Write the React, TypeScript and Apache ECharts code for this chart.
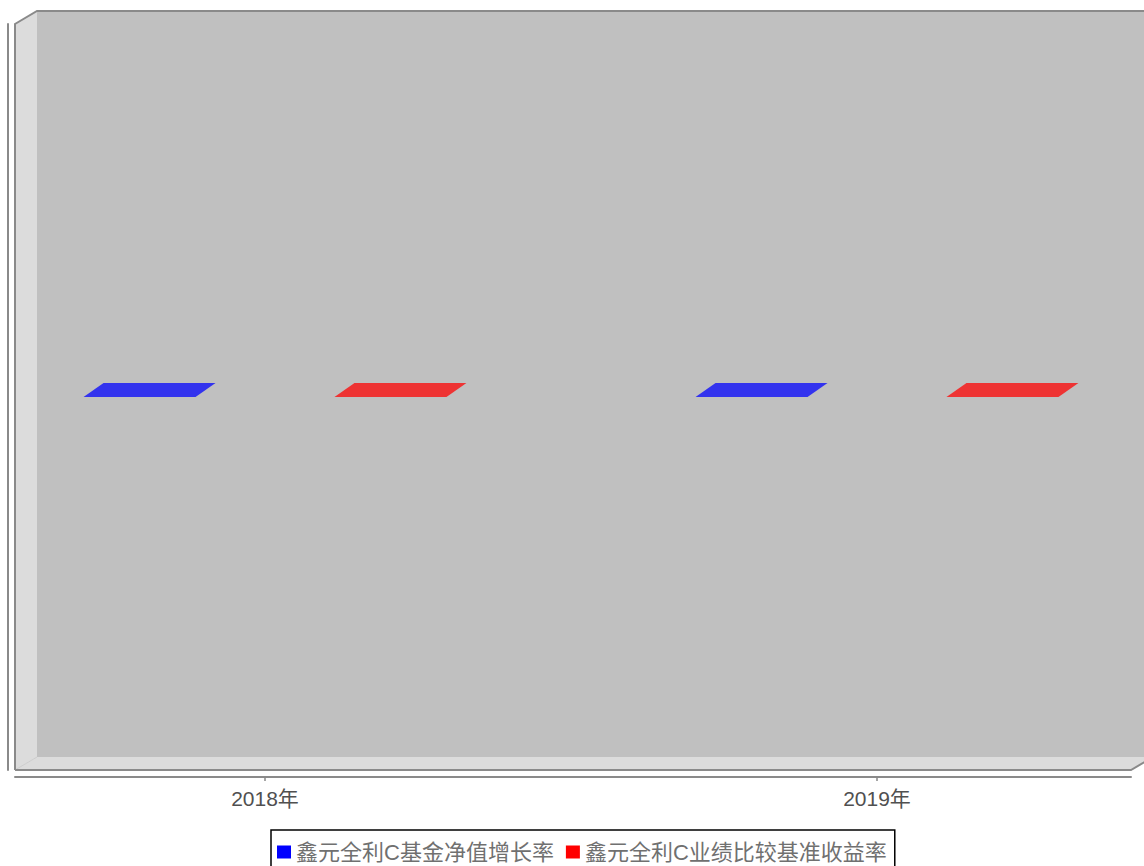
import React, { useEffect, useRef } from "react";
import * as echarts from "echarts";

const categories = ["2018年", "2019年"];
const seriesNames = ["鑫元全利C基金净值增长率", "鑫元全利C业绩比较基准收益率"];
const fundGrowth = [0, 0];
const benchmarkReturn = [0, 0];
const valueMin = -1;
const valueMax = 1;

const FONT = "'Liberation Sans', Arial, 'Noto Sans CJK SC', sans-serif";

// plot geometry (front plane)
const FL = 15;
const FR = 1131;
const FT = 24;
const FB = 770;
const WX = 22; // wall depth x
const WY = 13; // wall depth y
const BX = 20; // bar depth x
const BY = 14; // bar depth y
const BAR_FRAC = 0.183;
const OFFSET_FRAC = 0.205;

function makeRender(offsetFrac: number, front: string, top: string, side: string) {
  return (params: any, api: any) => {
    const cat = api.value(0);
    const val = api.value(1);
    const base = api.coord([cat, 0]);
    const tip = api.coord([cat, val]);
    const band = api.size([1, 0])[0];
    const w = band * BAR_FRAC;
    const cx = base[0] + band * offsetFrac;
    const x0 = cx - w / 2;
    const x1 = cx + w / 2;
    const yTop = Math.min(base[1], tip[1]);
    const yBot = Math.max(base[1], tip[1]);
    return {
      type: "group",
      children: [
        {
          type: "polygon",
          shape: {
            points: [
              [x1, yTop],
              [x1 + BX, yTop - BY],
              [x1 + BX, yBot - BY],
              [x1, yBot],
            ],
          },
          style: { fill: side },
        },
        {
          type: "rect",
          shape: { x: x0, y: yTop, width: w, height: yBot - yTop },
          style: { fill: front },
        },
        {
          type: "polygon",
          shape: {
            points: [
              [x0, yTop],
              [x1, yTop],
              [x1 + BX, yTop - BY],
              [x0 + BX, yTop - BY],
            ],
          },
          style: { fill: top },
        },
      ],
    };
  };
}

export default function App() {
  const ref = useRef<HTMLDivElement>(null);

  useEffect(() => {
    if (!ref.current) return;
    const chart = echarts.init(ref.current, undefined, { renderer: "svg" });

    const catSpacing = 612;
    const tick0 = 265;
    const grid0Left = tick0 - catSpacing / 2;

    const option: any = {
      animation: false,
      backgroundColor: "#ffffff",
      graphic: [
        {
          type: "rect",
          z: -10,
          shape: { x: FL + WX, y: FT - WY, width: FR - FL, height: FB - FT },
          style: { fill: "#c0c0c0" },
        },
        {
          type: "polygon",
          z: -9,
          shape: {
            points: [
              [FL, FT],
              [FL + WX, FT - WY],
              [FL + WX, FB - WY],
              [FL, FB],
            ],
          },
          style: { fill: "#dcdcdc" },
        },
        {
          type: "polygon",
          z: -9,
          shape: {
            points: [
              [FL, FB],
              [FL + WX, FB - WY],
              [FR + WX, FB - WY],
              [FR, FB],
            ],
          },
          style: { fill: "#dcdcdc" },
        },
        {
          type: "line",
          z: -8,
          shape: { x1: FL, y1: FB, x2: FL + WX, y2: FB - WY },
          style: { stroke: "#cccccc", lineWidth: 1 },
        },
        {
          type: "polyline",
          z: -7,
          shape: {
            points: [
              [FL, FB],
              [FL, FT],
              [FL + WX, FT - WY],
              [FR + WX, FT - WY],
            ],
          },
          style: { stroke: "#8a8a8a", lineWidth: 2, fill: null },
        },
        {
          type: "polyline",
          z: -7,
          shape: {
            points: [
              [FL, FB],
              [FR, FB],
              [FR + WX, FB - WY],
            ],
          },
          style: { stroke: "#8a8a8a", lineWidth: 2, fill: null },
        },
      ],
      grid: [
        {
          left: grid0Left,
          top: FT,
          width: catSpacing * 2,
          height: FB - FT,
          containLabel: false,
          outerBoundsMode: "none",
        },
        {
          left: FL,
          top: FT,
          width: FR - FL,
          height: FB - FT,
          containLabel: false,
          outerBoundsMode: "none",
        },
      ],
      xAxis: [
        {
          type: "category",
          gridIndex: 0,
          data: categories,
          offset: 7,
          axisLine: { show: false, onZero: false },
          axisTick: {
            show: true,
            alignWithLabel: true,
            length: 4,
            lineStyle: { color: "#888888", width: 1.5 },
          },
          axisLabel: {
            fontSize: 21,
            color: "#505050",
            fontFamily: FONT,
            margin: 11,
          },
          splitLine: { show: false },
        },
        {
          type: "category",
          gridIndex: 1,
          data: categories,
          offset: 7,
          axisLine: { show: true, onZero: false, lineStyle: { color: "#8a8a8a", width: 2 } },
          axisTick: { show: false },
          axisLabel: { show: false },
          splitLine: { show: false },
        },
      ],
      yAxis: [
        {
          type: "value",
          gridIndex: 0,
          min: valueMin,
          max: valueMax,
          show: false,
          splitLine: { show: false },
        },
        {
          type: "value",
          gridIndex: 1,
          min: valueMin,
          max: valueMax,
          offset: 7,
          axisLine: { show: true, onZero: false, lineStyle: { color: "#8a8a8a", width: 2 } },
          axisTick: { show: false },
          axisLabel: { show: false },
          splitLine: { show: false },
        },
      ],
      legend: {
        left: 271,
        top: 830,
        orient: "horizontal",
        icon: "rect",
        itemWidth: 14,
        itemHeight: 13,
        itemGap: 12,
        padding: [11, 8, 11, 6],
        borderColor: "#000000",
        borderWidth: 1.5,
        textStyle: { fontSize: 22, color: "#707070", fontFamily: FONT },
        data: seriesNames,
      },
      series: [
        {
          type: "custom",
          name: seriesNames[0],
          xAxisIndex: 0,
          yAxisIndex: 0,
          itemStyle: { color: "#0000ff" },
          renderItem: makeRender(-OFFSET_FRAC, "#2020d0", "#3333ee", "#1a1aa8"),
          encode: { x: 0, y: 1 },
          data: categories.map((c, i) => [i, fundGrowth[i]]),
        },
        {
          type: "custom",
          name: seriesNames[1],
          xAxisIndex: 0,
          yAxisIndex: 0,
          itemStyle: { color: "#ff0000" },
          renderItem: makeRender(OFFSET_FRAC, "#d02020", "#ee3333", "#a81a1a"),
          encode: { x: 0, y: 1 },
          data: categories.map((c, i) => [i, benchmarkReturn[i]]),
        },
      ],
    };

    chart.setOption(option);
    return () => chart.dispose();
  }, []);

  return (
    <div
      ref={ref}
      style={{ position: "absolute", left: 0, top: 0, width: 1144, height: 866 }}
    />
  );
}
